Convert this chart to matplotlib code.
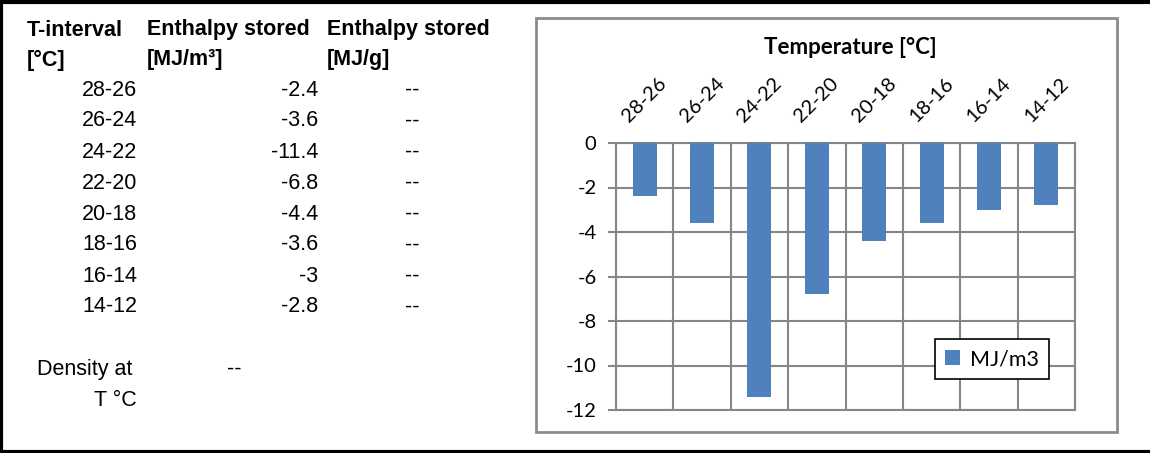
import numpy as np
import matplotlib
matplotlib.use('Agg')
from matplotlib import pyplot as plt
from matplotlib.patches import Rectangle
from matplotlib.lines import Line2D

intervals = ['28-26', '26-24', '24-22', '22-20', '20-18', '18-16', '16-14', '14-12']
enthalpy_mj_m3 = [-2.4, -3.6, -11.4, -6.8, -4.4, -3.6, -3, -2.8]
enthalpy_mj_g = ['--', '--', '--', '--', '--', '--', '--', '--']
density_text = '--'
y_ticks = [0, -2, -4, -6, -8, -10, -12]

W, H = 1150, 453
fig = plt.figure(figsize=(W / 100, H / 100), dpi=100)

table_font = 'Liberation Sans'
chart_font = 'Lato'
fs = 15.5


def px(x, y):
    # pixel position (from top-left) -> figure fraction
    return x / W, 1 - y / H


# sheet border
fig.add_artist(Line2D([1 / W, 1 / W], [0, 1], color='black', lw=3, transform=fig.transFigure))
fig.add_artist(Line2D([0, 1], [1 - 1.5 / H, 1 - 1.5 / H], color='black', lw=3, transform=fig.transFigure))
fig.add_artist(Line2D([0, 1], [1.5 / H, 1.5 / H], color='black', lw=3, transform=fig.transFigure))

# table on the left
headers = [(27, 'T-interval', '[°C]'), (147, 'Enthalpy stored', '[MJ/m³]'),
           (327, 'Enthalpy stored', '[MJ/g]')]
for x, h1, h2 in headers:
    fig.text(*px(x, 30), h1, family=table_font, weight='bold', fontsize=fs, ha='left', va='center')
    fig.text(*px(x, 60), h2, family=table_font, weight='bold', fontsize=fs, ha='left', va='center')

for i, (iv, v, g) in enumerate(zip(intervals, enthalpy_mj_m3, enthalpy_mj_g)):
    y = 90 + i * 31
    fig.text(*px(137, y), iv, family=table_font, fontsize=fs, ha='right', va='center')
    fig.text(*px(318, y), f'{v:g}', family=table_font, fontsize=fs, ha='right', va='center')
    fig.text(*px(412, y), g, family=table_font, fontsize=fs, ha='center', va='center')

fig.text(*px(132, 369), 'Density at', family=table_font, fontsize=fs, ha='right', va='center')
fig.text(*px(137, 400), 'T °C', family=table_font, fontsize=fs, ha='right', va='center')
fig.text(*px(234, 369), density_text, family=table_font, fontsize=fs, ha='center', va='center')

# chart frame
fig.add_artist(Rectangle(px(536, 432), (1117 - 536) / W, (432 - 18) / H, transform=fig.transFigure,
                         fill=False, edgecolor='#8c8c8c', lw=2))

ax = fig.add_axes([616 / W, 1 - 410 / H, (1075 - 616) / W, (410 - 143) / H])
x = np.arange(len(intervals))
bars = ax.bar(x, enthalpy_mj_m3, width=0.42, color='#4F81BD', label='MJ/m3', zorder=3)

ax.set_xlim(-0.5, len(intervals) - 0.5)
ax.set_ylim(-12, 0)
ax.set_yticks(y_ticks)
ax.set_yticklabels([str(t) for t in y_ticks], family=chart_font, fontsize=14.5)
ax.xaxis.tick_top()
ax.set_xticks(x)
ax.set_xticklabels(intervals, family=chart_font, fontsize=14.5, rotation=45, ha='center')
ax.tick_params(axis='x', length=0, pad=13)
ax.tick_params(axis='y', length=6, width=1.5, color='#868686', pad=8)
ax.set_xticks(np.arange(-0.5, len(intervals)), minor=True)
ax.tick_params(axis='x', which='minor', length=0)

ax.grid(axis='y', which='major', color='#868686', lw=1.5, zorder=0)
ax.grid(axis='x', which='minor', color='#868686', lw=1.5, zorder=0)
for s in ax.spines.values():
    s.set_color('#868686')
    s.set_linewidth(1.5)

fig.text(*px(850, 47), 'Temperature [°C]', family=chart_font, weight='bold', fontsize=16,
         ha='center', va='center')

leg = ax.legend(loc='center', bbox_to_anchor=px(992, 359), bbox_transform=fig.transFigure,
                fancybox=False, framealpha=1, edgecolor='black', prop={'family': chart_font, 'size': 15.5},
                handlelength=0.7, handleheight=0.7, handletextpad=0.5, borderpad=0.45)
leg.get_frame().set_linewidth(1.2)

plt.savefig('out.png', dpi=100)
